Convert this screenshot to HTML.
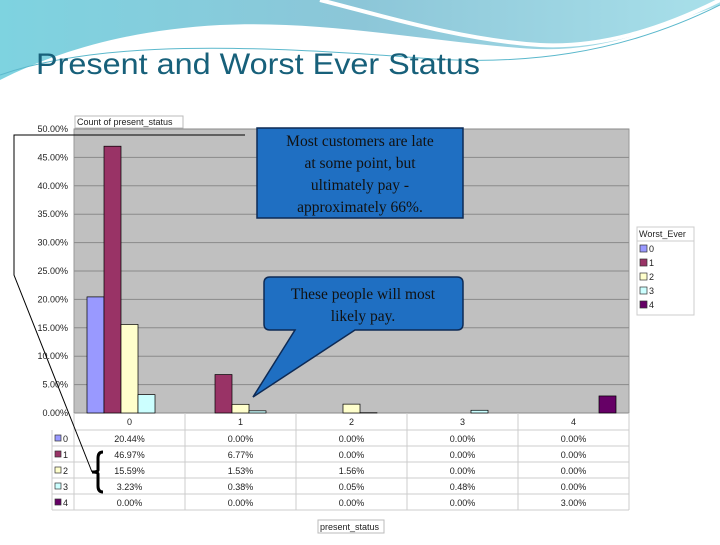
<!DOCTYPE html>
<html><head><meta charset="utf-8"><style>
body{margin:0;width:720px;height:540px;overflow:hidden;background:#fff;font-family:"Liberation Sans",sans-serif}
</style></head><body>
<svg width="720" height="540" viewBox="0 0 720 540" style="font-family:'Liberation Sans',sans-serif">
<defs>
<linearGradient id="wave" x1="0" y1="0" x2="1" y2="0"><stop offset="0" stop-color="#7ed3e0"/><stop offset="0.5" stop-color="#8cc6d8"/><stop offset="1" stop-color="#a9e0ea"/></linearGradient>
</defs>
<path d="M0 0H720V5C650 30 600 55 520 48C420 40 320 20 220 25C130 30 60 50 0 80Z" fill="url(#wave)"/>
<path d="M320 0C380 15 460 40 540 45C600 48 660 30 720 0" fill="none" stroke="#fff" stroke-width="4"/>
<path d="M0 75C100 40 250 45 420 58C520 66 620 55 720 5" fill="none" stroke="#5bb8cc" stroke-width="1"/>
<text x="36" y="74" font-size="30" fill="#17607a" textLength="444" lengthAdjust="spacingAndGlyphs">Present and Worst Ever Status</text>
<g id="chart"></g>
<rect x="75" y="116" width="108" height="12" fill="#fff" stroke="#bbb"/>
<text x="77" y="125" font-size="9" fill="#222">Count of present_status</text>
<rect x="318" y="520" width="66" height="13" fill="#fff" stroke="#bbb"/>
<text x="320" y="530" font-size="9" fill="#222">present_status</text>
<g>
<rect x="637" y="227" width="57" height="88" fill="#fff" stroke="#ccc"/>
<text x="639" y="237" font-size="9" fill="#222">Worst_Ever</text>
<line x1="637" y1="241" x2="694" y2="241" stroke="#ccc"/>
<g id="leg"></g>
</g>
<path d="M245 135H14V275L92 472" fill="none" stroke="#000" stroke-width="1"/>
<path d="M103 452Q98 452 98 458V470Q98 472 92 472Q98 472 98 474V486Q98 492 103 492" fill="none" stroke="#000" stroke-width="3"/>
<g>
<rect x="257" y="128" width="206" height="90" fill="#1f6fc2" stroke="#0d2a55" stroke-width="1.5"/>
<text style="font-family:'Liberation Serif',serif" font-size="15.5" fill="#111" text-anchor="middle"><tspan x="360" y="146">Most customers are late</tspan><tspan x="360" y="168">at some point, but</tspan><tspan x="360" y="190">ultimately pay -</tspan><tspan x="360" y="212">approximately 66%.</tspan></text>
</g>
<g>
<path d="M270 277H457Q463 277 463 283V324Q463 330 457 330H355L253 397L295 330H270Q264 330 264 324V283Q264 277 270 277Z" fill="#1f6fc2" stroke="#0d2a55" stroke-width="1.5"/>
<text style="font-family:'Liberation Serif',serif" font-size="15.5" fill="#111" text-anchor="middle"><tspan x="363" y="299">These people will most</tspan><tspan x="363" y="321">likely pay.</tspan></text>
</g>
</svg>
<script>
const categories=["0","1","2","3","4"];
const seriesNames=["0","1","2","3","4"];
const s0=[20.44,0,0,0,0];
const s1=[46.97,6.77,0,0,0];
const s2=[15.59,1.53,1.56,0,0];
const s3=[3.23,0.38,0.05,0.48,0];
const s4=[0,0,0,0,3.00];
const series=[s0,s1,s2,s3,s4];
const colors=["#9999ff","#993366","#ffffcc","#ccffff","#660066"];
const yTicks=[0,5,10,15,20,25,30,35,40,45,50];
const NS="http://www.w3.org/2000/svg";
const X0=74,X1=629,Y0=413,Y1=129,CW=(X1-X0)/categories.length;
const y=v=>Y0-(v/50)*(Y0-Y1);
const xc=i=>X0+i*CW;
const g=document.getElementById('chart');
function mk(t,a,p){const e=document.createElementNS(NS,t);for(const k in a)e.setAttribute(k,a[k]);(p||g).appendChild(e);return e;}
const pa=mk('rect',{x:X0,y:Y1,width:X1-X0,height:Y0-Y1,fill:'#c0c0c0',stroke:'#999'});


yTicks.forEach(t=>{
 const l=mk('line',{x1:X0,x2:X1,y1:y(t),y2:y(t),stroke:'#8a8a8a'});
 
 
 const tx=mk('text',{x:68,y:y(t)+3,'font-size':9,'text-anchor':'end',fill:'#222'});
 tx.textContent=t.toFixed(2)+'%';
 
 
});
const BW=17;
series.forEach((s,si)=>s.forEach((v,ci)=>{
 if(v<=0)return;
 const r=mk('rect',{x:xc(ci)+13+si*BW,y:y(v),width:BW,height:Y0-y(v),fill:colors[si],stroke:'#000','stroke-width':0.7});
 
 
}));
const TL=52,RH=16,HT=Y0;
mk('line',{x1:X0,x2:X1,y1:HT+17,y2:HT+17,stroke:'#ccc'});
for(let i=0;i<=categories.length;i++)mk('line',{x1:xc(i),x2:xc(i),y1:HT,y2:HT+17+RH*5,stroke:'#ccc'});
mk('line',{x1:TL,x2:TL,y1:HT+17,y2:HT+17+RH*5,stroke:'#ccc'});
categories.forEach((c,ci)=>{
 const t=mk('text',{x:xc(ci)+CW/2,y:HT+12,'font-size':9,'text-anchor':'middle',fill:'#222'});
 t.textContent=c;
 
 
});
series.forEach((s,si)=>{
 const ry=HT+17+RH*si;
 mk('line',{x1:TL,x2:X1,y1:ry+RH,y2:ry+RH,stroke:'#ccc'});
 mk('rect',{x:TL+3,y:ry+5,width:6,height:6,fill:colors[si],stroke:'#333','stroke-width':0.7});
 const lt=mk('text',{x:TL+11,y:ry+12,'font-size':9,fill:'#222'});lt.textContent=seriesNames[si];
 s.forEach((v,ci)=>{
  const t=mk('text',{x:xc(ci)+CW/2,y:ry+12,'font-size':9,'text-anchor':'middle',fill:'#222'});
  t.textContent=v.toFixed(2)+'%';
  
  
 });
 const lg=document.getElementById('leg');
 mk('rect',{x:640,y:245+si*14,width:7,height:7,fill:colors[si],stroke:'#333','stroke-width':0.7},lg);
 const tt=mk('text',{x:649,y:252+si*14,'font-size':9,fill:'#222'},lg);
 tt.textContent=seriesNames[si];
 
 
});
</script>
</body></html>
